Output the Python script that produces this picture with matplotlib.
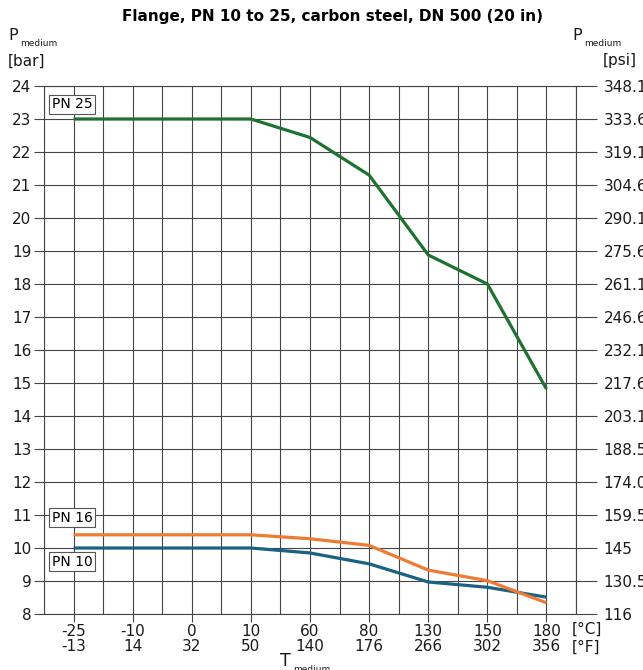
import matplotlib
matplotlib.use("Agg")
import matplotlib.pyplot as plt

plt.rcParams['font.family'] = ['DejaVu Sans']

# Temperature categories
temp_c = ["-25", "-10", "0", "10", "60", "80", "130", "150", "180"]
temp_f = ["-13", "14", "32", "50", "140", "176", "266", "302", "356"]

# Pressure ratings [bar]
pn25 = [23.0, 23.0, 23.0, 23.0, 22.44, 21.3, 18.88, 18.0, 14.82]
pn16 = [10.4, 10.4, 10.4, 10.4, 10.28, 10.08, 9.33, 9.01, 8.34]
pn10 = [10.0, 10.0, 10.0, 10.0, 9.85, 9.52, 8.97, 8.81, 8.51]

bar_ticks = list(range(8, 25))
psi_labels = ["116", "130.5", "145", "159.5", "174.0", "188.5", "203.1", "217.6",
              "232.1", "246.6", "261.1", "275.6", "290.1", "304.6", "319.1",
              "333.6", "348.1"]

W, H = 643, 670
fig = plt.figure(figsize=(W / 100, H / 100), dpi=100)
ax = fig.add_axes([44 / W, 1 - 614 / H, (576 - 44) / W, (614 - 86) / H])

x = list(range(len(temp_c)))
grid_col = "#454545"
txt_col = "#1a1a1a"
fs = 11

ax.plot(x, pn25, color="#1f7130", lw=2.3, solid_capstyle="butt", zorder=3)
ax.plot(x, pn16, color="#ef7a34", lw=2.3, solid_capstyle="butt", zorder=4)
ax.plot(x, pn10, color="#1a6184", lw=2.3, solid_capstyle="butt", zorder=3)

ax.set_xlim(-0.5, len(temp_c) - 0.5)
ax.set_ylim(8, 24)

# Grid: every half category horizontally, every bar vertically
for i in range(2 * len(temp_c) + 1):
    ax.axvline(-0.5 + i * 0.5, color=grid_col, lw=0.8, zorder=1)
for b in bar_ticks:
    ax.axhline(b, color=grid_col, lw=0.8, zorder=1)

for s in ax.spines.values():
    s.set_color(grid_col)
    s.set_linewidth(0.8)

ax.set_xticks(x)
ax.set_xticklabels([f"{c}\n{f}" for c, f in zip(temp_c, temp_f)],
                   fontsize=fs, linespacing=1.0, color=txt_col)
ax.set_yticks(bar_ticks)
ax.set_yticklabels([str(b) for b in bar_ticks], fontsize=fs, color=txt_col)
ax.tick_params(axis="x", length=6, width=0.8, color=grid_col, pad=1)
ax.tick_params(axis="y", length=7, width=0.8, color=grid_col, pad=2)

ax2 = ax.twinx()
ax2.set_ylim(8, 24)
ax2.set_yticks(bar_ticks)
ax2.set_yticklabels(psi_labels, fontsize=fs, color=txt_col)
ax2.tick_params(axis="y", length=15, width=0.8, color=grid_col, pad=5)
for s in ax2.spines.values():
    s.set_visible(False)

# Rating labels
box = dict(boxstyle="square,pad=0.18", fc="white", ec="#555555", lw=0.8)
ax.text(-0.37, 23.44, "PN 25", fontsize=10, va="center", ha="left", bbox=box, zorder=5)
ax.text(-0.37, 10.91, "PN 16", fontsize=10, va="center", ha="left", bbox=box, zorder=5)
ax.text(-0.37, 9.59, "PN 10", fontsize=10, va="center", ha="left", bbox=box, zorder=5)


def symbol_with_sub(px, py, sym, sub, size):
    """Main symbol with a small, lowered subscript (pixel coords from top-left)."""
    fig.text(px / W, 1 - py / H, sym, fontsize=size, ha="left", va="baseline", color=txt_col)
    fig.text((px + 0.78 * size * 100 / 72) / W, 1 - (py + 6) / H, sub,
             fontsize=6.5, ha="left", va="baseline", color=txt_col)


# Title and axis captions
fig.text(333 / W, 1 - 17 / H, "Flange, PN 10 to 25, carbon steel, DN 500 (20 in)",
         fontsize=11, fontweight="bold", ha="center", va="center")
symbol_with_sub(8, 40, "P", "medium", 11.5)
fig.text(8 / W, 1 - 61 / H, "[bar]", fontsize=fs, ha="left", va="center", color=txt_col)
symbol_with_sub(572, 40, "P", "medium", 11.5)
fig.text(637 / W, 1 - 61 / H, "[psi]", fontsize=fs, ha="right", va="center", color=txt_col)
fig.text(572 / W, 1 - 629 / H, "[°C]", fontsize=fs, ha="left", va="center", color=txt_col)
fig.text(572 / W, 1 - 647 / H, "[°F]", fontsize=fs, ha="left", va="center", color=txt_col)
symbol_with_sub(280, 666, "T", "medium", 12.5)

fig.savefig("out.png", dpi=100)
